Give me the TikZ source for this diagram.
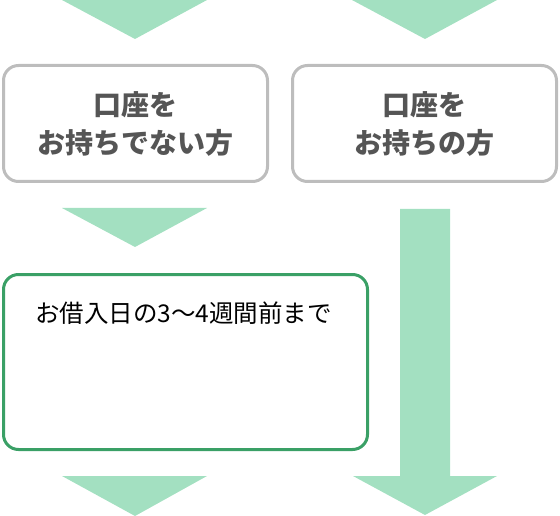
\documentclass[tikz,border=0pt]{standalone}
\usepackage{fontspec}
\newfontfamily\jp{Noto Sans CJK JP}
\definecolor{arrowgreen}{HTML}{A3E0C1}
\definecolor{boxgray}{HTML}{BDBDBD}
\definecolor{boxgreen}{HTML}{3AA066}
\definecolor{txtgray}{HTML}{555555}
\begin{document}
\begin{tikzpicture}[x=1pt,y=-1pt,
  graybox/.style={draw=boxgray,line width=3pt,rounded corners=15pt,fill=white,
    minimum width=264pt,minimum height=116pt,inner sep=0pt,align=center,
    text=txtgray,font=\jp\bfseries\fontsize{28}{38}\selectfont},
  greenbox/.style={draw=boxgreen,line width=3pt,rounded corners=15pt,fill=white,
    minimum width=364pt,minimum height=175pt,inner sep=0pt},
  boxtext/.style={inner sep=0pt,text=black,font=\jp\fontsize{24.5}{28}\selectfont},
  tri/.style={fill=arrowgreen,draw=none}]
\useasboundingbox (0,0) rectangle (560,516);
% top triangles
\fill[tri] (62,0) -- (207,0) -- (135,39) -- cycle;
\fill[tri] (352,0) -- (497,0) -- (425,39) -- cycle;
% boxes
\node[graybox] (b1) at (135.5,123.5) {口座を\\お持ちでない方};
\node[graybox] (b2) at (424.5,123.5) {口座を\\お持ちの方};
\node[greenbox] (b3) at (185.5,362) {};
\node[boxtext] (t3) at (183.5,313) {お借入日の3～4週間前まで};
% second left triangle
\fill[tri] (62,208) -- (207,208) -- (135,247) -- cycle;
% long right arrow
\fill[tri] (400,209) -- (450,209) -- (450,476) -- (497,476) -- (425,515) -- (353,476) -- (400,476) -- cycle;
% bottom left triangle
\fill[tri] (62,476) -- (207,476) -- (135,516) -- cycle;
\end{tikzpicture}
\end{document}
